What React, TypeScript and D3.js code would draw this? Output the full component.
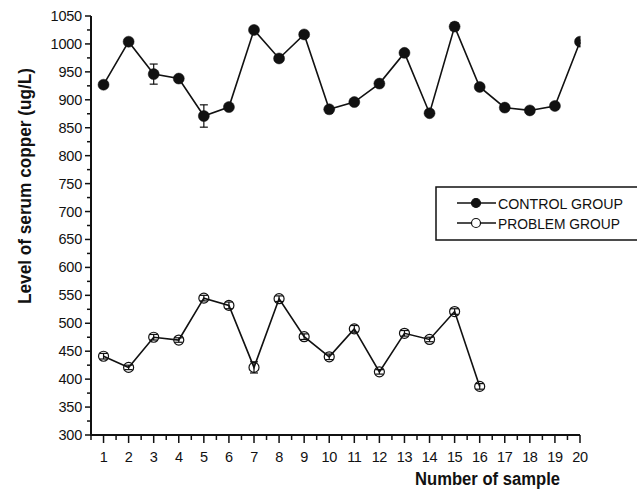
import React, { useEffect, useRef } from 'react';
import * as d3 from 'd3';

const controlSamples = [1, 2, 3, 4, 5, 6, 7, 8, 9, 10, 11, 12, 13, 14, 15, 16, 17, 18, 19, 20];
const controlValues = [927, 1004, 946, 938, 871, 887, 1025, 974, 1017, 883, 896, 929, 984, 876, 1031, 923, 886, 881, 889, 1004];
const controlErrors = [4, 3, 18, 4, 20, 4, 3, 3, 3, 3, 3, 3, 3, 3, 7, 4, 4, 4, 6, 3];

const problemSamples = [1, 2, 3, 4, 5, 6, 7, 8, 9, 10, 11, 12, 13, 14, 15, 16];
const problemValues = [441, 421, 475, 470, 545, 532, 421, 544, 476, 440, 490, 413, 482, 471, 521, 387];
const problemErrors = [5, 4, 5, 4, 5, 6, 10, 5, 5, 5, 6, 4, 5, 4, 5, 5];

const xTickLabels = ['1', '2', '3', '4', '5', '6', '7', '8', '9', '10', '11', '12', '13', '14', '15', '16', '17', '18', '19', '20'];
const yTickValues = [300, 350, 400, 450, 500, 550, 600, 650, 700, 750, 800, 850, 900, 950, 1000, 1050];

const FONT = '"Liberation Sans", Arial, sans-serif';

function SerumCopperChart() {
  const svgRef = useRef<SVGSVGElement>(null);

  useEffect(() => {
    const svg = d3.select(svgRef.current);
    svg.selectAll('*').remove();

    const left = 91, right = 580, top = 16, bottom = 435;

    const x = d3.scaleLinear().domain([0.5, 20]).range([left, right]);
    const y = d3.scaleLinear().domain([300, 1050]).range([bottom, top]);

    svg.append('defs').append('clipPath').attr('id', 'plot-clip')
      .append('rect')
      .attr('x', left).attr('y', 0)
      .attr('width', right - left + 0.5).attr('height', bottom);

    // y axis, minor ticks at the 25s
    const yAxis = svg.append('g').attr('transform', `translate(${left},0)`);
    yAxis.append('line').attr('y1', y(1050)).attr('y2', y(300)).attr('stroke', '#111').attr('stroke-width', 2);
    const yMinor = d3.range(325, 1050, 50);
    yAxis.selectAll('.minor').data(yMinor).enter().append('line')
      .attr('x1', -4).attr('x2', 0).attr('y1', d => y(d)).attr('y2', d => y(d))
      .attr('stroke', '#111').attr('stroke-width', 1.5);
    yAxis.selectAll('.major').data(yTickValues).enter().append('line')
      .attr('x1', -6).attr('x2', 0).attr('y1', d => y(d)).attr('y2', d => y(d))
      .attr('stroke', '#111').attr('stroke-width', 1.5);
    yAxis.selectAll('.lab').data(yTickValues).enter().append('text')
      .attr('x', -9).attr('y', d => y(d) + 5)
      .attr('text-anchor', 'end')
      .attr('font-family', FONT).attr('font-size', 14.5)
      .attr('letter-spacing', -0.2)
      .attr('fill', '#111')
      .text(d => String(d));

    // x axis, minor ticks at the halves
    const xAxis = svg.append('g').attr('transform', `translate(0,${bottom})`);
    xAxis.append('line').attr('x1', left - 1).attr('x2', right).attr('stroke', '#111').attr('stroke-width', 2);
    const xMinor = d3.range(0.5, 20, 1);
    xAxis.selectAll('.minor').data(xMinor).enter().append('line')
      .attr('x1', d => x(d)).attr('x2', d => x(d)).attr('y1', 0).attr('y2', 5)
      .attr('stroke', '#111').attr('stroke-width', 1.5);
    xAxis.selectAll('.major').data(xTickLabels).enter().append('line')
      .attr('x1', d => x(+d)).attr('x2', d => x(+d)).attr('y1', 0).attr('y2', 8)
      .attr('stroke', '#111').attr('stroke-width', 1.5);
    xAxis.selectAll('.lab').data(xTickLabels).enter().append('text')
      .attr('x', d => x(+d)).attr('y', 27)
      .attr('text-anchor', 'middle')
      .attr('font-family', FONT).attr('font-size', 14.5)
      .attr('letter-spacing', -0.4)
      .attr('fill', '#111')
      .text(d => d);

    // axis titles
    svg.append('text')
      .attr('transform', `translate(31,186) rotate(-90)`)
      .attr('text-anchor', 'middle')
      .attr('font-family', FONT).attr('font-size', 18).attr('font-weight', 'bold')
      .attr('textLength', 236).attr('lengthAdjust', 'spacingAndGlyphs')
      .attr('fill', '#111')
      .text('Level of serum copper (ug/L)');
    svg.append('text')
      .attr('x', 415).attr('y', 485)
      .attr('font-family', FONT).attr('font-size', 18).attr('font-weight', 'bold')
      .attr('textLength', 145).attr('lengthAdjust', 'spacingAndGlyphs')
      .attr('fill', '#111')
      .text('Number of sample');

    const plot = svg.append('g').attr('clip-path', 'url(#plot-clip)');

    const drawSeries = (samples: number[], values: number[], errors: number[], filled: boolean) => {
      const pts = samples.map((s, i) => [x(s), y(values[i])] as [number, number]);
      plot.append('path')
        .attr('d', d3.line()(pts))
        .attr('fill', 'none').attr('stroke', '#111').attr('stroke-width', 1.6);

      const g = plot.append('g');
      samples.forEach((s, i) => {
        const cx = x(s);
        const yHi = y(values[i] + errors[i]);
        const yLo = y(values[i] - errors[i]);
        g.append('line').attr('x1', cx).attr('x2', cx).attr('y1', yHi).attr('y2', yLo)
          .attr('stroke', '#111').attr('stroke-width', 1.2);
        g.append('line').attr('x1', cx - 4).attr('x2', cx + 4).attr('y1', yHi).attr('y2', yHi)
          .attr('stroke', '#111').attr('stroke-width', 1.2);
        g.append('line').attr('x1', cx - 4).attr('x2', cx + 4).attr('y1', yLo).attr('y2', yLo)
          .attr('stroke', '#111').attr('stroke-width', 1.2);
      });

      const marks = plot.append('g');
      marks.selectAll('circle').data(samples).enter().append('circle')
        .attr('cx', d => x(d))
        .attr('cy', (d, i) => y(values[i]))
        .attr('r', filled ? 5.5 : 5)
        .attr('fill', filled ? '#111' : 'none')
        .attr('stroke', '#111')
        .attr('stroke-width', filled ? 0.5 : 1.2);
    };

    drawSeries(controlSamples, controlValues, controlErrors, true);
    drawSeries(problemSamples, problemValues, problemErrors, false);

    // legend
    const legend = svg.append('g');
    legend.append('rect')
      .attr('x', 436).attr('y', 187).attr('width', 210).attr('height', 53)
      .attr('fill', 'white').attr('stroke', '#111').attr('stroke-width', 1.5);
    const rows = [
      { label: 'CONTROL GROUP', filled: true, y: 203, len: 125 },
      { label: 'PROBLEM GROUP', filled: false, y: 223, len: 122 },
    ];
    rows.forEach(r => {
      legend.append('line').attr('x1', 457).attr('x2', 496).attr('y1', r.y).attr('y2', r.y)
        .attr('stroke', '#111').attr('stroke-width', 1.3);
      legend.append('circle').attr('cx', 476).attr('cy', r.y).attr('r', 4.5)
        .attr('fill', r.filled ? '#111' : 'white').attr('stroke', '#111').attr('stroke-width', 1.2);
      legend.append('text')
        .attr('x', 498).attr('y', r.y + 6)
        .attr('font-family', FONT).attr('font-size', 15.5)
        .attr('textLength', r.len).attr('lengthAdjust', 'spacingAndGlyphs')
        .attr('fill', '#111')
        .text(r.label);
    });
  }, []);

  return (
    <svg ref={svgRef} width="637" height="494"
      style={{ position: 'absolute', left: 0, top: 0, background: 'white' }}></svg>
  );
}

export default function App() {
  return <SerumCopperChart />;
}
